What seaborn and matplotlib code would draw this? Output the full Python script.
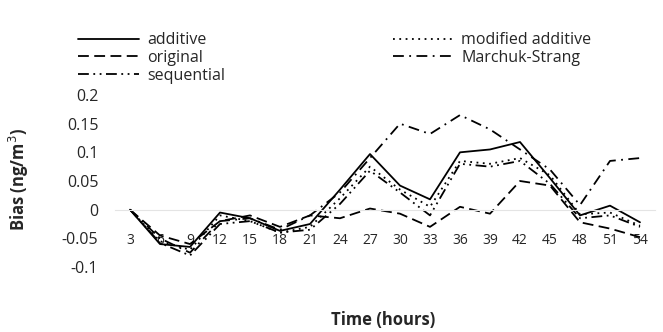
import matplotlib
matplotlib.use("Agg")
import matplotlib.pyplot as plt
import seaborn as sns
import pandas as pd

hours = [3, 6, 9, 12, 15, 18, 21, 24, 27, 30, 33, 36, 39, 42, 45, 48, 51, 54]
additive = [0, -0.06, -0.065, -0.005, -0.015, -0.037, -0.025, 0.035, 0.097, 0.042, 0.018, 0.1, 0.105, 0.118, 0.055, -0.01, 0.007, -0.022]
original = [0, -0.045, -0.06, -0.02, -0.01, -0.03, -0.01, -0.015, 0.002, -0.007, -0.03, 0.005, -0.007, 0.05, 0.042, -0.022, -0.033, -0.048]
modified_additive = [0, -0.055, -0.07, -0.01, -0.02, -0.04, -0.03, 0.02, 0.075, 0.035, 0.005, 0.085, 0.08, 0.09, 0.06, -0.008, -0.005, -0.028]
marchuk_strang = [0, -0.05, -0.075, -0.02, -0.015, -0.035, -0.01, 0.03, 0.09, 0.15, 0.132, 0.165, 0.14, 0.105, 0.07, 0.008, 0.085, 0.09]
sequential = [0, -0.058, -0.08, -0.025, -0.02, -0.04, -0.035, 0.01, 0.068, 0.03, -0.01, 0.08, 0.075, 0.085, 0.045, -0.015, -0.01, -0.03]

series = {
    "additive": additive,
    "original": original,
    "sequential": sequential,
    "modified additive": modified_additive,
    "Marchuk-Strang": marchuk_strang,
}
order = list(series.keys())

rows = []
for name, vals in series.items():
    for h, v in zip(hours, vals):
        rows.append({"Time": h, "Bias": v, "series": name})
df = pd.DataFrame(rows)

sns.set_style("white")
plt.rcParams['font.family'] = ['Open Sans', 'DejaVu Sans']

dashes = {
    "additive": "",
    "original": (6, 3),
    "sequential": (6, 2.5, 1, 2.5, 1, 2.5),
    "modified additive": (1, 2.5),
    "Marchuk-Strang": (6, 3, 1, 3),
}

fig = plt.figure(figsize=(6.63, 3.32), dpi=100)
ax = fig.add_axes([115/663, 1-267/332, 540/663, 172/332])

sns.lineplot(data=df, x="Time", y="Bias", hue="series", style="series",
             hue_order=order, style_order=order,
             palette={k: "black" for k in order}, dashes=dashes,
             linewidth=1.3, ax=ax, legend=True)

ax.set_xlim(1.5, 55.5)
ax.set_ylim(-0.1, 0.2)
ax.set_xticks(hours)
ax.set_xticklabels([str(h) for h in hours], fontsize=11.5)
ax.set_yticks([-0.1, -0.05, 0, 0.05, 0.1, 0.15, 0.2])
ax.set_yticklabels(["-0.1", "-0.05", "0", "0.05", "0.1", "0.15", "0.2"], fontsize=11.5)
for s in ["top", "right", "left"]:
    ax.spines[s].set_visible(False)
ax.spines["bottom"].set_position(("data", 0))
ax.spines["bottom"].set_color("#e4e4e4")
ax.spines["bottom"].set_linewidth(0.8)
ax.tick_params(axis="x", length=0, pad=17)
ax.tick_params(axis="y", length=0, pad=12)
ax.set_xlabel("")
ax.set_ylabel("")

fig.text(383/663, 1-320/332, "Time (hours)", ha="center", va="center",
         fontsize=12, fontweight="bold")
fig.text(19/663, 1-180/332, "Bias (ng/m$^3$)", ha="center", va="center",
         rotation=90, fontsize=12, fontweight="bold")

handles, labels = ax.get_legend_handles_labels()
ax.get_legend().remove()
fig.legend(handles, labels, loc="upper left", bbox_to_anchor=(72/663, 1-26/332),
           ncol=2, frameon=False, fontsize=11.5, handlelength=3.8,
           columnspacing=10.5, labelspacing=0.1, handletextpad=0.5,
           borderaxespad=0)

fig.savefig("out.png", dpi=100, facecolor="white")
